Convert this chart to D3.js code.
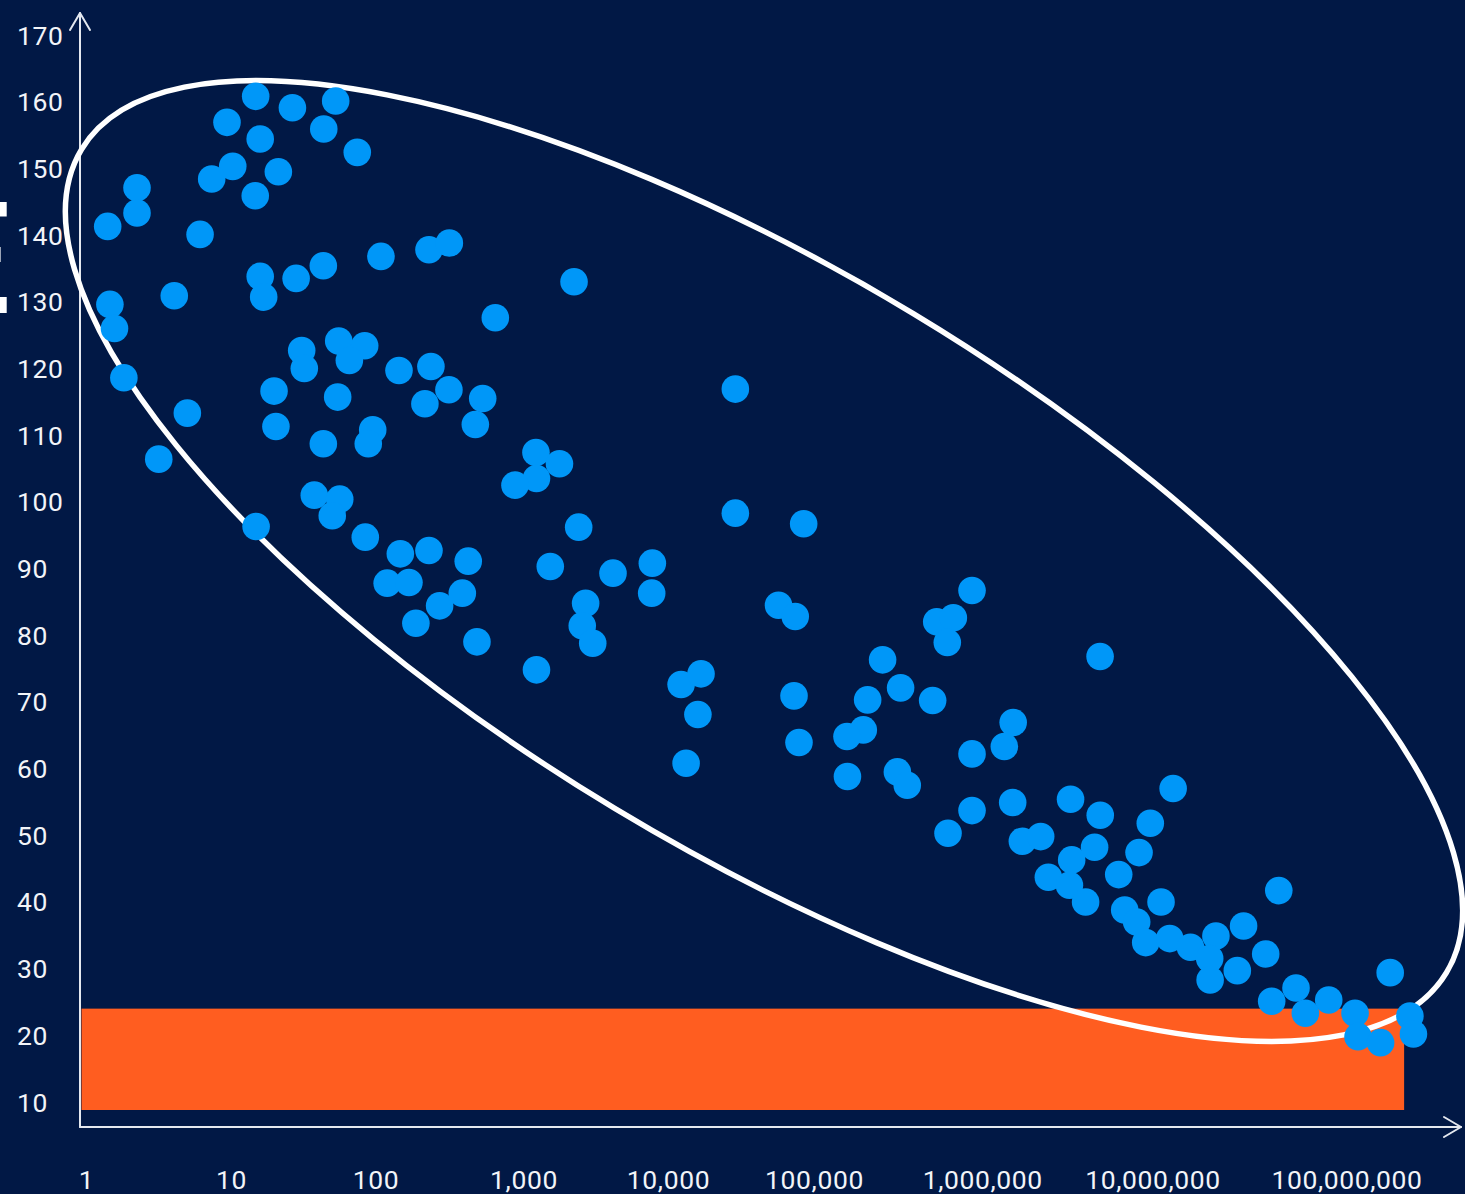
<!DOCTYPE html>
<html>
<head>
<meta charset="utf-8">
<script src="https://cdn.jsdelivr.net/npm/d3@7"></script>
<style>
  html, body { margin: 0; padding: 0; background: #011845; }
  svg { display: block; }
  text {
    font-family: Roboto, "Noto Sans", sans-serif;
    letter-spacing: 0.6px;
    fill: #f2f4f8;
  }
</style>
</head>
<body>
<svg id="chart" width="1465" height="1194"></svg>
<script>
// ---- data ----
const xTickValues = [1, 10, 100, 1e3, 1e4, 1e5, 1e6, 1e7, 1e8];
const xTickLabels = ["1", "10", "100", "1,000", "10,000", "100,000", "1,000,000", "10,000,000", "100,000,000"];
const yTicks = [10, 20, 30, 40, 50, 60, 70, 80, 90, 100, 110, 120, 130, 140, 150, 160, 170];

const xData = [
  14.7, 26.4, 52.6, 9.31, 43.5, 15.8, 74.2, 10.2, 7.30, 21.1,
  14.6, 2.23, 2.23, 1.40, 6.07, 108, 228, 313, 15.8, 28.0,
  43.2, 16.7, 4.03, 1.45, 1.56, 1.81, 4.96, 3.15, 30.6, 31.9,
  55.2, 83.5, 65.4, 143, 235, 19.7, 54.3, 214, 20.3, 43.2,
  94.9, 88.4, 37.4, 56.1, 49.8, 14.8, 84.3, 2220, 640, 311,
  526, 469, 1210, 1760, 1220, 869, 2390, 146, 228, 420,
  1520, 4130, 119, 167, 383, 269, 186, 481, 2670, 2530,
  2990, 1220, 28700, 28700, 84300, 7730, 7650, 56700, 73800, 12200,
  16700, 15900, 72400, 78300, 13200, 254000, 207000, 195000, 156000, 157000,
  864000, 533000, 669000, 616000, 4.89e6, 325000, 504000, 1.51e6, 1.34e6, 864000,
  311000, 356000, 3.28e6, 1.50e6, 864000, 4.90e6, 622000, 1.71e6, 2.19e6, 4.54e6,
  3.33e6, 2.43e6, 3.23e6, 4.02e6, 1.27e7, 9.64e6, 8.28e6, 6.29e6, 1.10e7, 6.82e6,
  8.02e6, 9.06e6, 1.22e7, 1.56e7, 2.11e7, 1.96e7, 1.97e7, 2.93e7, 2.72e7, 3.81e7,
  4.45e7, 4.09e7, 5.46e7, 6.10e7, 8.05e7, 1.10e8, 1.14e8, 1.49e8, 1.67e8, 2.11e8,
  2.20e8
];
const yData = [
  160.8, 159.1, 160.1, 156.9, 155.9, 154.4, 152.4, 150.3, 148.4, 149.5,
  145.9, 147.1, 143.3, 141.3, 140.1, 136.8, 137.8, 138.8, 133.8, 133.5,
  135.4, 130.7, 130.9, 129.6, 126.0, 118.6, 113.3, 106.4, 122.7, 120.0,
  124.1, 123.4, 121.2, 119.7, 120.3, 116.6, 115.7, 114.7, 111.3, 108.7,
  110.8, 108.7, 101.0, 100.4, 97.9, 96.3, 94.7, 133.0, 127.6, 116.8,
  115.5, 111.6, 107.4, 105.7, 103.5, 102.5, 96.2, 92.2, 92.7, 91.1,
  90.3, 89.3, 87.8, 87.9, 86.3, 84.4, 81.8, 79.0, 84.8, 81.4,
  78.8, 74.8, 116.9, 98.3, 96.7, 90.8, 86.3, 84.5, 82.8, 72.6,
  74.2, 68.1, 70.9, 63.9, 60.8, 76.3, 70.3, 65.8, 64.8, 58.8,
  86.7, 82.0, 82.6, 78.9, 76.8, 72.1, 70.2, 66.9, 63.3, 62.2,
  59.5, 57.5, 55.4, 54.9, 53.7, 53.0, 50.3, 49.1, 49.8, 48.2,
  46.3, 43.7, 42.5, 40.0, 57.0, 51.8, 47.4, 44.1, 40.0, 38.8,
  37.0, 33.9, 34.5, 33.2, 34.9, 31.5, 28.3, 36.4, 29.7, 32.2,
  41.7, 25.1, 27.1, 23.3, 25.3, 23.3, 19.8, 18.9, 29.4, 22.9,
  20.2
];

// highlighted low band (y range) reaching out to this x value
const bandRange = [8.8, 24];
const bandXMax = 1.97e8;

// ---- layout ----
const W = 1465, H = 1194;
const axisX = 80, axisY = 1127;
const bg = "#011845", dotColor = "#0097f8", bandColor = "#ff5d20";
const labelSize = 26.5;

const svg = d3.select("#chart");

// decade positions along the horizontal axis (piecewise over log10)
const decadeX = [86.5, 231.5, 376, 524, 668.5, 814.5, 982.7, 1153, 1347];
const xLog = d3.scaleLinear().domain(d3.range(decadeX.length)).range(decadeX);
const x = v => xLog(Math.log10(v));
const y = d3.scaleLinear().domain([10, 170]).range([1102, 35]);

svg.append("rect").attr("width", W).attr("height", H).attr("fill", bg);

// clipped title fragments at the left edge
const edge = svg.append("g").attr("fill", "#ffffff");
edge.append("rect").attr("x", 0).attr("y", 202).attr("width", 6.7).attr("height", 14.5);
edge.append("rect").attr("x", 0).attr("y", 247).attr("width", 1).attr("height", 15).attr("fill", "#9aa3b5");
edge.append("rect").attr("x", 0).attr("y", 297).attr("width", 6.7).attr("height", 16);

// low band
svg.append("rect")
  .attr("x", axisX + 1.5)
  .attr("y", y(bandRange[1]))
  .attr("width", x(bandXMax) - axisX - 1.5)
  .attr("height", y(bandRange[0]) - y(bandRange[1]))
  .attr("fill", bandColor);

// axes with open arrow heads
const axisColor = "#e4e8ef";
const axes = svg.append("g").attr("stroke", axisColor).attr("fill", "none")
  .attr("stroke-width", 2).attr("stroke-linecap", "round").attr("stroke-linejoin", "round");
axes.append("line").attr("x1", axisX).attr("y1", axisY).attr("x2", axisX).attr("y2", 13);
axes.append("line").attr("x1", axisX).attr("y1", axisY).attr("x2", 1461).attr("y2", axisY);
axes.append("path").attr("d", `M${axisX - 10},30 L${axisX},13 L${axisX + 10},30`);
axes.append("path").attr("d", `M1444,${axisY - 10} L1461,${axisY} L1444,${axisY + 10}`);

// cluster outline
svg.append("ellipse")
  .attr("cx", 0).attr("cy", 0).attr("rx", 797).attr("ry", 289)
  .attr("transform", "translate(764,561) rotate(31.1)")
  .attr("fill", "none").attr("stroke", "#ffffff").attr("stroke-width", 5.5);

// points
svg.append("g").selectAll("circle")
  .data(d3.zip(xData, yData))
  .join("circle")
  .attr("cx", d => x(d[0]))
  .attr("cy", d => y(d[1]))
  .attr("r", 13.8)
  .attr("fill", dotColor);

// y tick labels
svg.append("g").selectAll("text")
  .data(yTicks)
  .join("text")
  .attr("x", 17)
  .attr("y", d => y(d))
  .attr("dy", "0.36em")
  .attr("font-size", labelSize)
  .text(d => d);

// x tick labels
svg.append("g").selectAll("text")
  .data(d3.zip(xTickValues, xTickLabels))
  .join("text")
  .attr("x", d => x(d[0]))
  .attr("y", 1179)
  .attr("dy", "0.36em")
  .attr("text-anchor", "middle")
  .attr("font-size", labelSize)
  .text(d => d[1]);
</script>
</body>
</html>
